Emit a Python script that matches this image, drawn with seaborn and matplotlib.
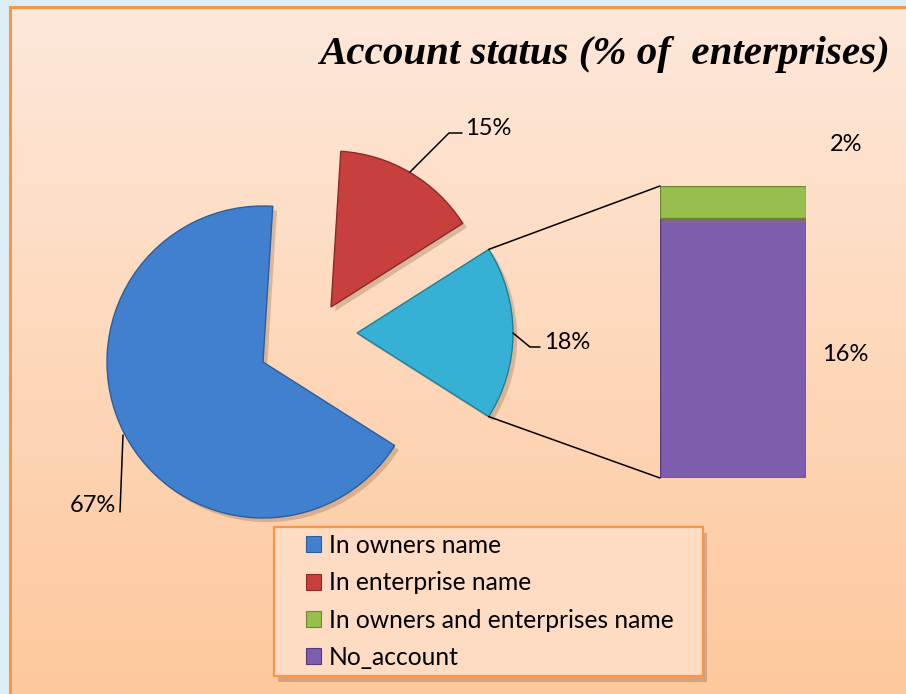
import numpy as np
import matplotlib
matplotlib.use("Agg")
import matplotlib.pyplot as plt
import seaborn as sns
from matplotlib.patches import Rectangle, ConnectionPatch, Patch
from matplotlib.patheffects import withSimplePatchShadow
from matplotlib.colors import LinearSegmentedColormap

sns.set_theme(style="white")
plt.rcParams['font.family'] = ['Lato', 'DejaVu Sans']
plt.rcParams['text.color'] = 'black'

# ---------------- data ----------------
title = "Account status (% of  enterprises)"
categories = ["In owners name", "In enterprise name",
              "In owners and enterprises name", "No_account"]
values = [67, 15, 2, 16]             # % of enterprises
pie_labels = ["67%", "15%", "18%"]
bar_labels = ["2%", "16%"]

colors = {"In owners name": "#4180CE", "In enterprise name": "#C8403D",
          "other": "#36B1D5", "In owners and enterprises name": "#98BE4E",
          "No_account": "#7D5DAE"}
edge = {"In owners name": "#2A5E9E", "In enterprise name": "#8E2826",
        "other": "#1F7F9A", "In owners and enterprises name": "#6A8A30",
        "No_account": "#533B7C"}

W, H = 906, 694
fig = plt.figure(figsize=(W / 100, H / 100), dpi=100)
fig.patch.set_facecolor("#DDEEF6")

ax = fig.add_axes([0, 0, 1, 1])
grad = np.linspace(0, 1, 256)[:, None]
bg = LinearSegmentedColormap.from_list("bg", ["#FEE8DA", "#FDC89C"])
ax.imshow(grad, cmap=bg, extent=(10, W, 0, H - 7), aspect="auto", zorder=0)
ax.add_patch(Rectangle((9.5, -5), W, H - 6.5 + 5, fill=False,
                       edgecolor="#F79646", lw=2.2, zorder=1))

shadow = [withSimplePatchShadow(offset=(3, -3), shadow_rgbFace="#9a7050", alpha=0.35)]

# ---------------- pie (clockwise: enterprise, other, owners) ----------------
other_total = values[2] + values[3]
pie_vals = [values[1], other_total, values[0]]
pie_cols = [colors["In enterprise name"], colors["other"], colors["In owners name"]]
pie_edges = [edge["In enterprise name"], edge["other"], edge["In owners name"]]
total = sum(pie_vals)
start = 360 * (pie_vals[0] + pie_vals[1] / 2) / total

R = 156
wedges, _ = ax.pie(pie_vals, colors=pie_cols, startangle=start, counterclock=False,
                   radius=R, center=(261, H - 362),
                   wedgeprops=dict(linewidth=1.0, zorder=3))
for w_, ec in zip(wedges, pie_edges):
    w_.set_edgecolor(ec)
    w_.set_path_effects(shadow)
centers = [(331, H - 307), (357, H - 333), (263, H - 362)]
for w_, c in zip(wedges, centers):
    w_.set_center(c)

ax.set_xlim(0, W)
ax.set_ylim(0, H)
ax.set_aspect("auto")
ax.axis("off")

# ---------------- bar of the "other" slice ----------------
bx0, by0, bw, bh = 660, 478, 146, 292
axb = fig.add_axes([bx0 / W, (H - by0) / H, bw / W, bh / H])
axb.patch.set_alpha(0)
bar_cats = ["No_account", "In owners and enterprises name"]
bar_vals = [values[3], values[2]]
bottom = 0
for cat, v in zip(bar_cats, bar_vals):
    axb.bar(0, v, bottom=bottom, width=1, color=colors[cat], edgecolor=edge[cat],
            linewidth=1.0, path_effects=shadow)
    bottom += v
axb.set_xlim(-0.5, 0.5)
axb.set_ylim(0, sum(bar_vals))
axb.axis("off")

# connector lines
cw = wedges[1]
cx, cy = cw.center
for ang, yb in [(cw.theta2, sum(bar_vals)), (cw.theta1, 0)]:
    p = (cx + R * np.cos(np.radians(ang)), cy + R * np.sin(np.radians(ang)))
    con = ConnectionPatch(xyA=p, coordsA=ax.transData, xyB=(-0.5, yb),
                          coordsB=axb.transData, color="black", lw=1.1, zorder=2)
    fig.add_artist(con)

# ---------------- data labels ----------------
lab_fs = 17
def px(x, y):
    return x, H - y
ax.plot(*zip(px(123, 435), px(120, 512)), color="black", lw=1.1, zorder=4)
ax.text(*px(116, 506), pie_labels[0], ha="right", va="center", fontsize=lab_fs, zorder=5)
ax.plot(*zip(px(410, 172), px(449, 133), px(462, 133)), color="black", lw=1.1, zorder=4)
ax.text(*px(465, 128), pie_labels[1], ha="left", va="center", fontsize=lab_fs, zorder=5)
ax.plot(*zip(px(513, 333), px(530, 347), px(540, 347)), color="black", lw=1.1, zorder=4)
ax.text(*px(544, 342), pie_labels[2], ha="left", va="center", fontsize=lab_fs, zorder=5)
ax.text(*px(846, 144), bar_labels[0], ha="center", va="center", fontsize=lab_fs, zorder=5)
ax.text(*px(845, 354), bar_labels[1], ha="center", va="center", fontsize=lab_fs, zorder=5)

# ---------------- title ----------------
fig.text(890 / W, 1 - 64 / H, title, ha="right", va="baseline",
         fontsize=29.5, fontweight="bold", fontstyle="italic",
         family=["Liberation Serif"], color="black")

# ---------------- legend ----------------
lx0, ly0, lx1, ly1 = 274, 527, 703, 676
ax.add_patch(Rectangle((lx0, H - ly1), lx1 - lx0, ly1 - ly0, facecolor="#FDDCC3",
                       edgecolor="#F79646", lw=1.6, zorder=6,
                       path_effects=[withSimplePatchShadow(offset=(3, -4), shadow_rgbFace="#a07860", alpha=0.45)]))
handles = [Patch(facecolor=colors[c], edgecolor=edge[c], lw=0.8) for c in categories]
leg = fig.legend(handles, categories, loc="upper left",
                 bbox_to_anchor=(306 / W, 1 - 534 / H), frameon=False,
                 fontsize=17.7, handlelength=0.62, handleheight=0.62,
                 handletextpad=0.3, labelspacing=0.58, borderpad=0, borderaxespad=0)
for t in leg.get_texts():
    t.set_color("black")
leg.set_zorder(7)

fig.savefig("out.png", dpi=100, facecolor=fig.get_facecolor())
